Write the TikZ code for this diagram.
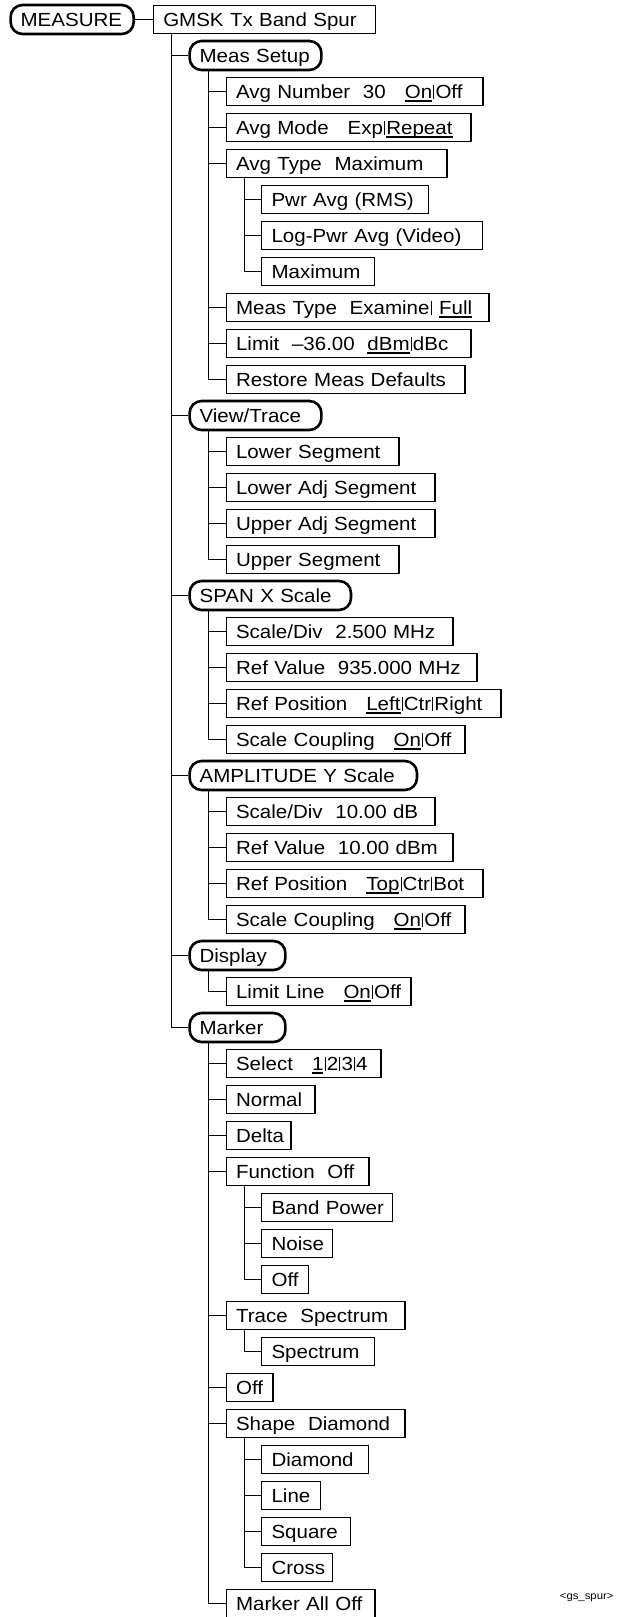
\documentclass[tikz,border=0pt]{standalone}
\usepackage{fontspec}
\setmainfont{Liberation Sans}[FakeStretch=1.08]

\newcommand{\chosen}[1]{\setbox0\hbox{#1}\rlap{\rule[-3.2pt]{\wd0}{1.6pt}}\box0}
\newcommand{\orsep}{\kern1.2pt\rule{0.9pt}{13.6pt}\kern1.2pt}

\tikzset{
  menu/.style={draw,line width=2.6pt,rounded corners=12pt,anchor=west,
    minimum height=29pt,inner xsep=10pt,text width=#1pt-22.6pt,
    text height=15pt,text depth=1pt,
    execute at begin node=\hbox\bgroup,execute at end node=\egroup},
  box/.style={draw,line width=1.1pt,anchor=west,
    minimum height=28.5pt,inner xsep=10pt,text width=#1pt-21.1pt,
    text height=15pt,text depth=1pt,
    execute at begin node=\hbox\bgroup,execute at end node=\egroup},
  link/.style={line width=1pt}
}

\begin{document}
\begin{tikzpicture}[x=1pt,y=-1pt,font=\fontsize{19}{22}\selectfont]
        \useasboundingbox (0,0) rectangle (617,1617);

        \node[menu=125.7] (measure) at (9.3,19.5) {MEASURE};
        \node[box=223] (gmsk) at (152.7,19.5) {GMSK Tx Band Spur};

        \node[menu=134.4] (meas) at (188.3,55.5) {Meas Setup};
        \node[box=258] (avgnum) at (225.5,91.5) {Avg Number\ \ 30\ \ \ \chosen{On}\orsep Off};
        \node[box=246] (avgmode) at (225.5,127.5) {Avg Mode\ \ \ Exp\orsep\chosen{Repeat}};
        \node[box=222] (avgtype) at (225.5,163.5) {Avg Type\ \ Maximum};
        \node[box=168] (pwravg) at (261,199.5) {Pwr Avg (RMS)};
        \node[box=222] (logavg) at (261,235.5) {Log-Pwr Avg (Video)};
        \node[box=114] (maxavg) at (261,271.5) {Maximum};
        \node[box=264] (meastype) at (225.5,307.5) {Meas Type\ \ Examine\orsep\ \chosen{Full}};
        \node[box=246] (limit) at (225.5,343.5) {Limit\ \ --36.00\ \ \chosen{dBm}\orsep dBc};
        \node[box=240] (restore) at (225.5,379.5) {Restore Meas Defaults};

        \node[menu=134.4] (view) at (188.3,415.5) {View/Trace};
        \node[box=174] (lowseg) at (225.5,451.5) {Lower Segment};
        \node[box=210] (lowadj) at (225.5,487.5) {Lower Adj Segment};
        \node[box=210] (upadj) at (225.5,523.5) {Upper Adj Segment};
        \node[box=174] (upseg) at (225.5,559.5) {Upper Segment};

        \node[menu=164] (span) at (188.3,595.5) {SPAN X Scale};
        \node[box=228] (xdiv) at (225.5,631.5) {Scale/Div\ \ 2.500 MHz};
        \node[box=252] (xref) at (225.5,667.5) {Ref Value\ \ 935.000 MHz};
        \node[box=276] (xpos) at (225.5,703.5) {Ref Position\ \ \ \chosen{Left}\orsep Ctr\orsep Right};
        \node[box=240] (xcpl) at (225.5,739.5) {Scale Coupling\ \ \ \chosen{On}\orsep Off};

        \node[menu=230] (ampl) at (188.3,775.5) {AMPLITUDE Y Scale};
        \node[box=210] (ydiv) at (225.5,811.5) {Scale/Div\ \ 10.00 dB};
        \node[box=228] (yref) at (225.5,847.5) {Ref Value\ \ 10.00 dBm};
        \node[box=258] (ypos) at (225.5,883.5) {Ref Position\ \ \ \chosen{Top}\orsep Ctr\orsep Bot};
        \node[box=240] (ycpl) at (225.5,919.5) {Scale Coupling\ \ \ \chosen{On}\orsep Off};

        \node[menu=98.4] (disp) at (188.3,955.5) {Display};
        \node[box=186] (limline) at (225.5,991.5) {Limit Line\ \ \ \chosen{On}\orsep Off};

        \node[menu=98.4] (mark) at (188.3,1027.5) {Marker};
        \node[box=156] (select) at (225.5,1063.5) {Select\ \ \ \chosen{1}\orsep 2\orsep 3\orsep 4};
        \node[box=90] (normal) at (225.5,1099.5) {Normal};
        \node[box=66] (delta) at (225.5,1135.5) {Delta};
        \node[box=144] (func) at (225.5,1171.5) {Function\ \ Off};
        \node[box=132] (band) at (261,1207.5) {Band Power};
        \node[box=72] (noise) at (261,1243.5) {Noise};
        \node[box=48] (fnoff) at (261,1279.5) {Off};
        \node[box=180] (trace) at (225.5,1315.5) {Trace\ \ Spectrum};
        \node[box=114] (spec) at (261,1351.5) {Spectrum};
        \node[box=48] (mkoff) at (225.5,1387.5) {Off};
        \node[box=180] (shape) at (225.5,1423.5) {Shape\ \ Diamond};
        \node[box=108] (diam) at (261,1459.5) {Diamond};
        \node[box=60] (lineshp) at (261,1495.5) {Line};
        \node[box=90] (square) at (261,1531.5) {Square};
        \node[box=72] (cross) at (261,1567.5) {Cross};
        \node[box=150] (alloff) at (225.5,1603.5) {Marker All Off};

        \node[anchor=east,font=\fontsize{10.5}{12}\selectfont] (tag) at (617,1598) {<gs\_spur>};

        \draw[link] (measure) -- (gmsk);
        \draw[link] ([xshift=19]gmsk.south west) |- (meas.west);
        \draw[link] ([xshift=19]gmsk.south west) |- (view.west);
        \draw[link] ([xshift=19]gmsk.south west) |- (span.west);
        \draw[link] ([xshift=19]gmsk.south west) |- (ampl.west);
        \draw[link] ([xshift=19]gmsk.south west) |- (disp.west);
        \draw[link] ([xshift=19]gmsk.south west) |- (mark.west);

        \draw[link] ([xshift=20.5]meas.south west) |- (avgnum.west);
        \draw[link] ([xshift=20.5]meas.south west) |- (avgmode.west);
        \draw[link] ([xshift=20.5]meas.south west) |- (avgtype.west);
        \draw[link] ([xshift=20.5]meas.south west) |- (meastype.west);
        \draw[link] ([xshift=20.5]meas.south west) |- (limit.west);
        \draw[link] ([xshift=20.5]meas.south west) |- (restore.west);
        \draw[link] ([xshift=19]avgtype.south west) |- (pwravg.west);
        \draw[link] ([xshift=19]avgtype.south west) |- (logavg.west);
        \draw[link] ([xshift=19]avgtype.south west) |- (maxavg.west);

        \draw[link] ([xshift=20.5]view.south west) |- (lowseg.west);
        \draw[link] ([xshift=20.5]view.south west) |- (lowadj.west);
        \draw[link] ([xshift=20.5]view.south west) |- (upadj.west);
        \draw[link] ([xshift=20.5]view.south west) |- (upseg.west);

        \draw[link] ([xshift=20.5]span.south west) |- (xdiv.west);
        \draw[link] ([xshift=20.5]span.south west) |- (xref.west);
        \draw[link] ([xshift=20.5]span.south west) |- (xpos.west);
        \draw[link] ([xshift=20.5]span.south west) |- (xcpl.west);

        \draw[link] ([xshift=20.5]ampl.south west) |- (ydiv.west);
        \draw[link] ([xshift=20.5]ampl.south west) |- (yref.west);
        \draw[link] ([xshift=20.5]ampl.south west) |- (ypos.west);
        \draw[link] ([xshift=20.5]ampl.south west) |- (ycpl.west);

        \draw[link] ([xshift=20.5]disp.south west) |- (limline.west);

        \draw[link] ([xshift=20.5]mark.south west) |- (select.west);
        \draw[link] ([xshift=20.5]mark.south west) |- (normal.west);
        \draw[link] ([xshift=20.5]mark.south west) |- (delta.west);
        \draw[link] ([xshift=20.5]mark.south west) |- (func.west);
        \draw[link] ([xshift=20.5]mark.south west) |- (trace.west);
        \draw[link] ([xshift=20.5]mark.south west) |- (mkoff.west);
        \draw[link] ([xshift=20.5]mark.south west) |- (shape.west);
        \draw[link] ([xshift=20.5]mark.south west) |- (alloff.west);
        \draw[link] ([xshift=19]func.south west) |- (band.west);
        \draw[link] ([xshift=19]func.south west) |- (noise.west);
        \draw[link] ([xshift=19]func.south west) |- (fnoff.west);
        \draw[link] ([xshift=19]trace.south west) |- (spec.west);
        \draw[link] ([xshift=19]shape.south west) |- (diam.west);
        \draw[link] ([xshift=19]shape.south west) |- (lineshp.west);
        \draw[link] ([xshift=19]shape.south west) |- (square.west);
        \draw[link] ([xshift=19]shape.south west) |- (cross.west);
      \end{tikzpicture}
\end{document}
